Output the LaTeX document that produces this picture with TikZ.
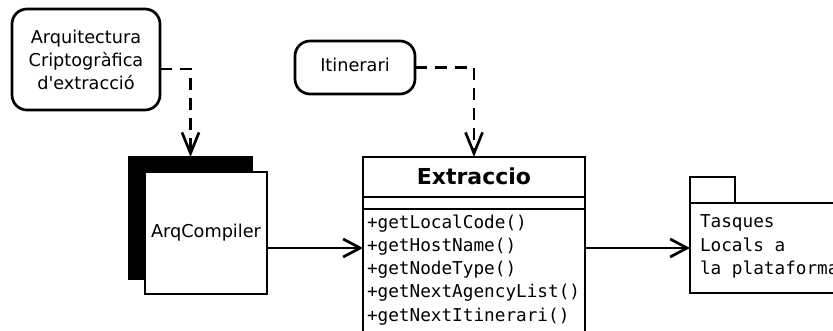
\documentclass[tikz,border=0pt]{standalone}
\usepackage{fontspec}
\setmainfont{DejaVu Sans}[Ligatures=TeXOff]
\setmonofont{DejaVu Sans Mono}
\usetikzlibrary{arrows.meta}
\begin{document}
\begin{tikzpicture}[x=1pt, y=-1pt,
  every node/.style={inner sep=0pt, outer sep=0pt},
  lbl/.style={font=\fontsize{17.7}{23}\selectfont},
  mono/.style={font=\fontsize{17.7}{23}\selectfont\ttfamily, anchor=base west},
  box/.style={draw, line width=2.7pt},
  note/.style={box, rounded corners=15pt, lbl, align=center},
  dep/.style={line width=2.7pt, dash pattern=on 12pt off 8pt,
    -{Straight Barb[length=21pt, width=17pt]}},
  assoc/.style={line width=2.7pt, -{Straight Barb[length=17pt, width=18pt]}}
]
\useasboundingbox (0,0) rectangle (833,331);
\clip (0,0) rectangle (833,331);

% notes
\node[note, minimum width=148pt, minimum height=101pt] (arq) at (86,59.5)
  {Arquitectura\\Criptogràfica\\d'extracció};
\node[note, minimum width=120pt, minimum height=53pt, text height=13pt, text depth=4pt]
  (itin) at (355,67.5) {Itinerari};

% component with its shadow
\node[box, fill=black, minimum width=123pt, minimum height=122pt] (back) at (190.5,218) {};
\node[box, fill=white, lbl, minimum width=122pt, minimum height=122pt,
  text height=13pt, text depth=4pt] (comp) at (206,233) {ArqCompiler};

% class Extraccio
\node[box, minimum width=222pt, minimum height=40pt,
  font=\fontsize{22}{26}\selectfont\bfseries, text height=16pt, text depth=0pt]
  (ext) at (474,177) {Extraccio};
\node[box, minimum width=222pt, minimum height=12pt, anchor=north] (attr) at (ext.south) {};
\node[box, minimum width=222pt, minimum height=150pt, anchor=north] (ops) at (attr.south) {};
\node[mono] (m1) at (367,229) {+getLocalCode()};
\node[mono] (m2) at (367,252) {+getHostName()};
\node[mono] (m3) at (367,275) {+getNodeType()};
\node[mono] (m4) at (367,298) {+getNextAgencyList()};
\node[mono] (m5) at (367,321) {+getNextItinerari()};

% package
\node[box, minimum width=45pt, minimum height=26pt] (tab) at (712.5,190) {};
\node[box, minimum width=170pt, minimum height=90pt, anchor=north west] (pkg) at (690,203) {};
\node[mono] (p1) at (700,228) {Tasques};
\node[mono] (p2) at (700,252) {Locals a};
\node[mono] (p3) at (700,275) {la plataforma};

% connectors
\coordinate (d1) at (190,69);
\coordinate (row) at (0,248);
\draw[dep] (arq.east |- d1) -| (back.north);
\draw[dep] (itin.east) -| (ext.north);
\draw[assoc] (comp.east |- row) -- (ext.west |- row);
\draw[assoc] (ext.east |- row) -- (pkg.west |- row);
\end{tikzpicture}
\end{document}
